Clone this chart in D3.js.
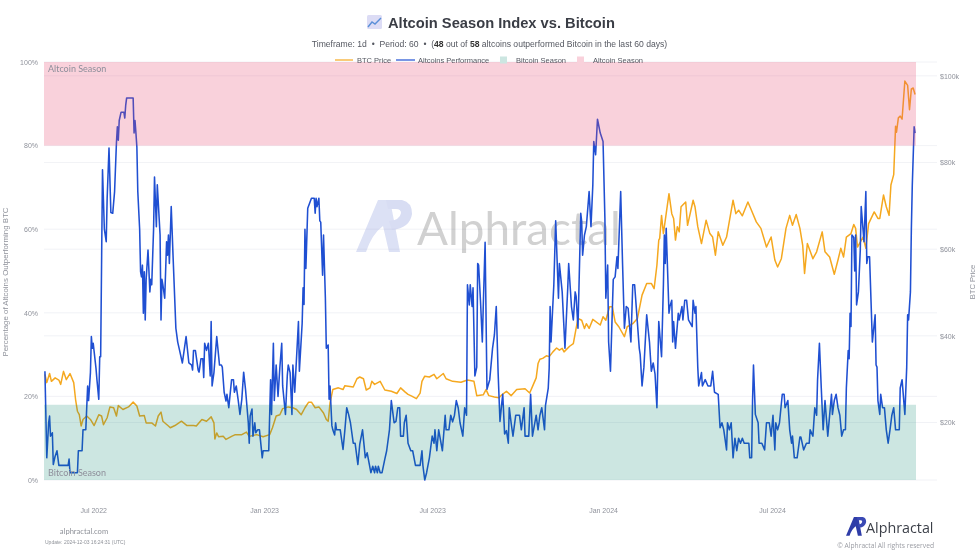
<!DOCTYPE html>
<html><head><meta charset="utf-8">
<script src="https://cdn.jsdelivr.net/npm/d3@7"></script>
<style>
html,body{margin:0;padding:0;background:#fff;overflow:hidden}
svg{display:block;font-family:"Liberation Sans",Arial,sans-serif;filter:blur(0.3px)}
.ax text{fill:#8f929b;font-size:7px}
.ax .domain,.ax line{display:none}
</style></head><body><svg id="c" width="980" height="551"></svg>
<script>
const startDate = new Date(2022,4,9), endDate = new Date(2024,11,3);
const altDays = [1,3,5,6,7,9,10,12,14,16,26,27,28,36,37,41,42,45,47,48,50,51,52,53,56,57,59,60,61,63,65,67,68,70,72,74,76,78,79,80,81,83,86,87,88,89,96,97,98,99,100,101,103,104,105,106,107,108,109,110,112,114,115,116,118,119,121,122,125,126,127,128,130,132,133,134,135,137,139,142,144,146,149,153,156,159,160,161,163,166,167,169,171,172,173,175,177,179,180,181,183,186,189,191,192,194,196,197,199,202,204,205,207,209,211,213,215,217,220,221,222,224,225,227,228,230,232,235,236,242,244,245,247,248,250,252,254,256,257,260,262,263,265,267,268,270,274,275,278,279,280,281,282,284,288,291,292,293,294,296,297,298,300,301,303,304,306,307,308,310,311,313,314,315,319,322,324,326,328,330,333,335,338,340,343,346,348,352,354,356,357,359,360,362,364,367,369,372,374,377,379,381,383,384,387,388,390,392,395,397,400,405,407,408,410,412,415,418,420,421,423,425,429,432,433,436,438,440,442,444,446,448,451,453,455,456,458,459,461,462,464,466,467,468,470,472,473,475,477,480,483,485,487,489,491,493,494,496,498,500,501,503,505,508,512,514,517,518,522,524,526,530,532,534,536,539,540,543,544,545,546,549,551,554,555,558,561,564,565,568,570,572,573,575,578,579,580,582,584,587,589,591,592,594,596,599,602,604,605,607,608,610,613,615,617,618,621,623,625,627,629,632,634,636,641,642,644,646,649,652,654,656,658,660,662,665,667,668,669,670,672,673,674,676,677,678,680,683,684,687,688,690,692,694,698,699,701,702,704,705,708,709,712,715,718,720,722,726,728,730,732,735,736,738,740,742,744,746,748,750,752,754,759,760,762,763,764,766,769,770,773,776,778,781,783,785,787,788,790,792,795,797,798,801,803,805,806,808,811,814,815,818,821,824,825,828,830,832,833,835,837,839,841,844,848,849,851,853,855,857,859,861,863,864,866,867,868,869,870,872,873,874,875,877,879,880,883,885,886,887,889,891,892,895,896,897,898,900,901,903,905,907,909,911,913,915,917,921,922,924,927,929,930,931,933,934,935,937,938];
const altPct = [26,5.3,13.7,15.3,10.5,11.3,3.7,5.7,7,3.5,3.5,5,1.75,1.75,7,7,12,12,22.5,19,25.7,34.3,31.5,32.7,26.7,24,19.3,29.5,29.5,74.2,60,57,67.4,79.4,64,63.8,69,80.6,84.5,81.3,86,88,88,86.6,89.7,91.4,91.4,83,86,83,79.7,69,60,49.8,48.6,51.4,39.9,49.8,38.3,48,55,45,48,46.7,60,72.5,60.6,70.6,58.6,38.3,48,46.7,43.5,57,53.8,58.6,51.8,65.4,53.4,36.3,33,31,28,34.3,28,27.5,26.3,31,31,26.3,25.8,29,29,24.5,32.7,31,32.7,24.9,37.9,22.5,25.7,34.3,27.5,27.5,27,21,18.9,20.5,17.3,24,24,21,22.5,19.3,15.7,19.3,25.8,21.7,13.7,8.8,15.3,17,10.5,13.7,11.3,12,12,5.3,7,7,24,15.7,32.7,19,27.5,20,27,32.7,22.5,15.7,25,27.5,25.7,15.7,27.5,21,37.9,26,37.5,46,42,60,50.6,65,67.4,67.4,63.8,67.4,65.4,67.4,62,61.7,49,58.6,43.5,31.5,32.3,19.3,22.5,13,12,10.8,13.7,12,12,7.3,12,17.3,15.7,13.7,8.8,8.8,3.7,8.5,12,5.3,6.5,1.75,3.3,1.75,3.3,1.75,3.3,1.75,1.75,5,7,12,19,13.7,14,17.3,17.3,10.5,10.5,13.7,15.5,8.8,7,7,3.5,3.5,7,3.5,0,1.75,5.3,10.5,8.8,12,7,12,7,15.5,12,12,15.5,13.9,15.5,19,17.3,13.7,10.5,17.3,15.5,46.7,41.9,46.7,41.5,46,24.9,27,51.8,51.4,43,33,41.5,56.9,21.7,24,31.5,34.7,41.5,25.7,14,18.5,20.5,11,11.8,8.8,17.3,13.7,10.5,15.5,15.5,12,17.3,10.5,10.5,20.5,10.5,15.5,12,15.5,17.3,12,17.8,22,26.7,41.5,33,46.7,62,43.5,51.8,45,31.5,46,51.8,41.5,38.3,45,44,36.3,63.8,61.8,53.8,58.6,60.6,69,60.6,70.6,81,77.8,86.3,83,81,62.6,43.5,51.4,33,26,48,48.6,53.4,50.6,69,51.8,36.3,41.5,41.1,33,46.7,46.7,31.5,30,22.5,27,39.5,33,26,28,25.3,17.3,37.9,29.5,46.7,58.6,51.8,60.2,46.7,39.9,41.5,43,33,37.9,31.5,39.9,38.3,41.5,38.3,43,43,38.3,36.7,43,39.9,41.5,27,22.5,25.7,22.5,24,22.5,22.5,26,21,20.5,12.5,13.7,12,7.2,13.7,12,13.7,5.3,10,7,10,8.8,10,8.8,8.8,5.3,5.3,19,27.5,15.7,13.7,8.8,8.8,7.2,13.7,13.7,10.5,15.5,7.2,13.7,12,13.7,20.5,20.5,17.3,19,12,8.8,10.5,5.3,5.3,10.3,10.3,7.2,8.8,8.8,12,10.5,17.3,15.5,24,32.7,22,12,19,10.5,20.5,15.7,19,20.5,17.3,15.5,10.5,12,12,22,31,29,39.9,36.7,58.6,58,50,58.6,41.9,45,55,65.4,57,69,51.8,53.4,53.4,39.9,33,39.5,27.5,27,19,15.7,20.5,17.3,17.3,12,8.8,12,15.5,17.3,12,12,22,24,15.7,27,39.5,38.3,45,60,70.5,84.5,83];
const btcDays = [1,3,6,8,12,16,18,21,24,28,32,34,36,38,40,42,46,50,54,59,62,64,68,71,75,78,80,85,91,96,100,103,108,110,116,120,123,126,128,134,136,141,148,154,161,164,170,175,180,183,184,186,188,193,196,202,206,213,218,221,229,236,243,246,250,254,257,263,268,272,277,281,285,288,292,296,301,304,306,308,311,317,322,324,333,337,340,344,347,351,353,356,362,367,374,380,384,389,392,396,401,405,407,410,415,420,423,430,433,440,449,456,463,466,473,476,479,485,490,493,498,503,509,518,523,527,530,532,534,537,541,544,548,552,555,558,560,566,570,573,575,579,582,584,587,591,599,602,605,609,612,615,619,625,628,634,639,644,649,654,657,660,662,663,665,667,670,673,676,678,680,682,684,686,691,693,699,701,704,708,713,717,720,723,726,731,735,742,745,748,752,758,761,767,772,778,783,787,790,794,799,803,806,810,814,817,819,822,828,832,838,841,846,851,855,858,861,864,869,872,874,876,882,885,888,894,898,900,904,907,910,912,915,917,918,920,922,924,927,930,932,934,936,938];
const btcK = [31.1,29.2,31.3,29.5,30.3,29.8,28.8,31.8,29.9,31.3,29.2,25.3,22.6,21.8,19.2,20.7,21.5,20.7,19.3,21.8,21.5,19.5,21.1,23.6,23.4,21.5,23.9,23,23.6,24.7,23.8,21.5,21.6,19.9,19.9,19.2,21.5,22.4,20.3,19.2,18.8,19.3,20.3,19.3,19.3,19.2,20.7,20.3,21.3,19.9,16.2,17.6,16.7,16.8,16.1,16.8,17.2,17.2,17.8,16.8,17.2,16.7,17.2,18.8,21.5,21.8,23.2,23.6,23.4,23,21.8,23.4,24.7,24.7,23.4,23.6,22.2,20.7,20.3,24.5,27.6,28,27.6,28.5,28.2,30.1,30.5,30.1,27.5,28,29.5,28.8,29.5,27.5,27.2,26.7,28,27,26.5,26.1,25.5,26.8,29.5,30.7,30.5,31.1,30.1,31.3,30.1,29.5,29.3,29.8,29.5,26.2,26.4,27.6,26.2,25.9,25.7,26.4,27.2,26.2,27.6,27.8,26.8,28.8,30.3,33.6,34.6,34.8,35.4,35.2,36.3,37.2,36.7,37.1,36.3,37.6,38.2,41.7,44,43.6,41.7,42.8,41.7,43.8,42.5,44.4,43.6,46.7,46.7,43.2,42.1,39.8,42.1,42.8,44,49.4,52.1,52.1,50.9,56.3,62.1,62.5,67.8,63.6,68.2,72.8,68.2,67.1,62.1,65.2,64,69.8,70.9,65.5,71.3,69.8,65.2,61.3,66.7,63.6,62.8,58.6,64,60.9,62.8,71.3,68.2,69,67.7,70.9,69.4,66.3,64.8,60.5,62.8,57.5,55.9,57.8,64.8,67.8,65.5,68,64.8,60.9,54.4,61.3,57.8,59.4,64,59.4,58.2,54.2,57.5,60.2,58.2,62.8,63.6,65.7,64.8,60.5,62.8,60.2,65.9,68.6,67.1,67.1,72.5,69.8,67.8,74.8,77.2,88.4,87,90.3,90.7,90,98.8,97.8,92.2,97,97.2,95.7];
const pctTicks = [0,20,40,60,80,100];
const priceTicks = [20,40,60,80,100];
const dateTicks = [new Date(2022,6,1),new Date(2023,0,1),new Date(2023,6,1),new Date(2024,0,1),new Date(2024,6,1)];
const bands = [{name:"Bitcoin Season",lo:0,hi:18,fill:"rgba(0,130,105,0.2)",swatch:"#cce6e1",labelPct:1.6},
               {name:"Altcoin Season",lo:80,hi:100,fill:"rgba(232,70,110,0.25)",swatch:"#f9d1db",labelPct:98.1}];

const svg = d3.select("#c");
const x = d3.scaleTime().domain([startDate,endDate]).range([44,916]);
const y = d3.scaleLinear().domain([0,100]).range([480,62]);
const yR = d3.scaleLinear().domain([6.73,103.2]).range([480,62]);
const dayDate = d => d3.timeDay.offset(startDate,d);

// grid
const grid = svg.append("g").attr("stroke","#edeff4").attr("stroke-width",0.8);
pctTicks.forEach(p=>grid.append("line").attr("x1",44).attr("x2",937).attr("y1",y(p)).attr("y2",y(p)));
priceTicks.forEach(p=>grid.append("line").attr("x1",44).attr("x2",937).attr("y1",yR(p)).attr("y2",yR(p)));

// watermark
const wm = svg.append("g").attr("opacity",0.27);
function logo(g,tx,ty,s,c1,c2){
  const l=g.append("g").attr("transform",`translate(${tx},${ty}) scale(${s})`);
  l.append("path").attr("fill",c1).attr("d","M0 52 L22 0 L34 0 L44 52 L33 52 L27 26 Q16 34 10 52 Z");
  l.append("path").attr("fill",c2).attr("d","M30 0 L46 0 Q56 2 56 14 Q54 28 36 30 L33 21 Q44 20 45 13 Q45 9 40 9 L32 9 Z");
}
logo(wm,356,200,1,"#7f8fd8","#6f80d4");
wm.append("text").attr("x",417).attr("y",245).attr("font-family","Lato,sans-serif").attr("font-size",45.8).attr("fill","#555").text("Alphractal");

// lines
const lineFn = (xs,ys,sc)=>d3.line().x((d,i)=>x(dayDate(xs[i]))).y((d,i)=>sc(ys[i]))(xs);
svg.append("path").attr("d",lineFn(btcDays,btcK,yR)).attr("fill","none").attr("stroke","#f5a81f").attr("stroke-width",1.5).attr("stroke-linejoin","round");
svg.append("path").attr("d",lineFn(altDays,altPct,y)).attr("fill","none").attr("stroke","#1f4fd2").attr("stroke-width",1.55).attr("stroke-linejoin","round");

// bands over lines
svg.selectAll("rect.band").data(bands).join("rect").attr("class","band")
  .attr("x",44).attr("width",872).attr("y",d=>y(d.hi)).attr("height",d=>y(d.lo)-y(d.hi)).attr("fill",d=>d.fill);
svg.selectAll("text.bl").data(bands).join("text").attr("class","bl")
  .attr("x",48).attr("y",d=>y(d.labelPct)).attr("font-size",9).attr("font-family","Lato,sans-serif").attr("fill","#8e8f9b").attr("dominant-baseline","middle").text(d=>d.name);

// axes
svg.append("g").attr("class","ax").attr("transform","translate(40,0)").call(d3.axisLeft(y).tickValues(pctTicks).tickSize(0).tickPadding(2).tickFormat(d=>d+"%"));
svg.append("g").attr("class","ax").attr("transform","translate(940,0)").call(d3.axisRight(yR).tickValues(priceTicks).tickSize(0).tickPadding(0).tickFormat(d=>"$"+d+"k"));
svg.append("g").attr("class","ax").attr("transform","translate(0,508)").call(d3.axisBottom(x).tickValues(dateTicks).tickSize(0).tickPadding(0).tickFormat(d3.timeFormat("%b %Y")));

svg.append("text").attr("transform","translate(7.5,282) rotate(-90)").attr("text-anchor","middle").attr("font-size",7.9).attr("fill","#8f929b").text("Percentage of Altcoins Outperforming BTC");
svg.append("text").attr("transform","translate(975,282) rotate(-90)").attr("text-anchor","middle").attr("font-size",7.6).attr("fill","#8f929b").text("BTC Price");

// title
const ic = svg.append("g").attr("transform","translate(367,15)");
ic.append("rect").attr("width",15).attr("height",14).attr("rx",1.5).attr("fill","#dcdcf5");
ic.append("path").attr("d","M1 12 L5 7 L8 9 L14 3").attr("fill","none").attr("stroke","#5a8fd8").attr("stroke-width",1.4);
svg.append("text").attr("x",388).attr("y",27.5).attr("font-size",14.7).attr("font-weight",700).attr("fill","#3a3d45").text("Altcoin Season Index vs. Bitcoin");
const sub = svg.append("text").attr("x",489.5).attr("y",46.5).attr("text-anchor","middle").attr("font-size",8.6).attr("fill","#555861").style("white-space","pre");
sub.append("tspan").text("Timeframe: 1d  \u2022  Period: 60  \u2022  (");
sub.append("tspan").attr("font-weight",700).attr("fill","#333").text("48");
sub.append("tspan").text(" out of ");
sub.append("tspan").attr("font-weight",700).attr("fill","#333").text("58");
sub.append("tspan").text(" altcoins outperformed Bitcoin in the last 60 days)");

// legend
const lg = svg.append("g").attr("font-size",7.5).attr("fill","#555861");
const legendLines=[{name:"BTC Price",c:"#f5a81f",x1:335,x2:353,tx:357},{name:"Altcoins Performance",c:"#1f4fd2",x1:396,x2:415,tx:418}];
legendLines.forEach(d=>{lg.append("line").attr("x1",d.x1).attr("x2",d.x2).attr("y1",60).attr("y2",60).attr("stroke",d.c).attr("stroke-width",1.2);
  lg.append("text").attr("x",d.tx).attr("y",62.6).text(d.name);});
[{i:0,sx:500,tx:516},{i:1,sx:577,tx:593}].forEach(d=>{lg.append("rect").attr("x",d.sx).attr("y",56.5).attr("width",7).attr("height",7).attr("fill",bands[d.i].swatch);
  lg.append("text").attr("x",d.tx).attr("y",62.6).text(bands[d.i].name);});

// footer
svg.append("text").attr("x",84).attr("y",534).attr("text-anchor","middle").attr("font-size",7.6).attr("font-family","Lato,sans-serif").attr("fill","#8f9299").text("alphractal.com");
svg.append("text").attr("x",45).attr("y",543.5).attr("font-size",5).attr("fill","#8f9299").text("Update: 2024-12-03 16:24:31 (UTC)");
logo(svg,846,517,0.36,"#2f3da8","#3a49b4");
svg.append("text").attr("x",866).attr("y",532.5).attr("font-size",14.3).attr("font-family","'Open Sans',sans-serif").attr("fill","#3b3f48").text("Alphractal");
svg.append("text").attr("x",934).attr("y",547.5).attr("text-anchor","end").attr("font-size",6.7).attr("font-family","'Open Sans',sans-serif").attr("fill","#9a9ca3").text("\u00a9 Alphractal All rights reserved");
</script></body></html>
